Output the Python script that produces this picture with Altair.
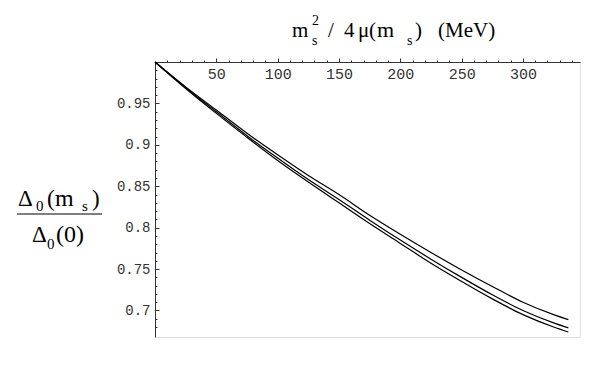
import altair as alt
import pandas as pd

# ---- data ----
x_vals = [0, 25, 50, 75, 100, 125, 150, 175, 200, 225, 250, 275, 300, 325, 337]
curve_a = [1.0, 0.970, 0.942, 0.914, 0.888, 0.863, 0.840, 0.815, 0.792, 0.770, 0.749, 0.729, 0.710, 0.695, 0.689]
curve_b = [1.0, 0.969, 0.940, 0.911, 0.884, 0.858, 0.834, 0.809, 0.785, 0.762, 0.740, 0.719, 0.700, 0.685, 0.679]
curve_c = [1.0, 0.968, 0.938, 0.909, 0.881, 0.855, 0.830, 0.805, 0.781, 0.757, 0.735, 0.714, 0.695, 0.680, 0.674]
series_names = ["a", "b", "c"]

x_major = [50, 100, 150, 200, 250, 300]
x_minor = [10, 20, 30, 40, 60, 70, 80, 90, 110, 120, 130, 140, 160, 170, 180, 190,
           210, 220, 230, 240, 260, 270, 280, 290, 310, 320, 330, 340]
y_major = [0.7, 0.75, 0.8, 0.85, 0.9, 0.95]
y_minor = [0.68, 0.69, 0.71, 0.72, 0.73, 0.74, 0.76, 0.77, 0.78, 0.79, 0.81, 0.82, 0.83, 0.84,
           0.86, 0.87, 0.88, 0.89, 0.91, 0.92, 0.93, 0.94, 0.96, 0.97, 0.98, 0.99]

# title pieces: text, x, y, size
title_parts = [
    ("m", 137, -25, 21), ("2", 157, -37, 14), ("s", 157, -17, 14),
    ("/", 173, -25, 21), ("4", 189, -25, 21), ("μ", 203, -25, 21),
    ("(", 214, -25, 21), ("m", 222, -25, 22), ("s", 252, -17, 14),
    (")", 260, -25, 21), ("(MeV)", 283, -25, 21),
]
ylabel_parts = [
    ("Δ", -137, 144, 23), ("0", -119, 149, 15), ("(", -108, 144, 23), ("m", -100, 144, 24),
    ("s", -73, 149, 15), (")", -63, 144, 23),
    ("Δ", -123, 180, 23), ("0", -108, 187, 15), ("(0)", -99, 180, 24),
]

W, H = 425, 275
X_DOM = [0, 346.5]
Y_DOM = [0.668, 1.0]

rows = []
for name, vals in zip(series_names, [curve_a, curve_b, curve_c]):
    for xv, yv in zip(x_vals, vals):
        rows.append({"x": xv, "y": yv, "series": name})
df = pd.DataFrame(rows)

xs = alt.Scale(domain=X_DOM, nice=False, zero=False)
ys = alt.Scale(domain=Y_DOM, nice=False, zero=False)
AX = "#333333"
MONO = "Liberation Mono, Cousine, DejaVu Sans Mono, Courier New, monospace"

base = alt.Chart(df)

lines = base.mark_line(color="black", strokeWidth=1.2, interpolate="monotone").encode(
    x=alt.X("x:Q", scale=xs, title=None,
            axis=alt.Axis(orient="top", values=x_major, labels=False, tickSize=4,
                          domainColor=AX, tickColor=AX, grid=False)),
    y=alt.Y("y:Q", scale=ys, title=None,
            axis=alt.Axis(orient="right", offset=-W, values=y_major, labels=False, tickSize=4,
                          domainColor=AX, tickColor=AX, grid=False)),
    detail="series:N",
)

label_layer = base.mark_line(opacity=0).encode(
    x=alt.X("x:Q", scale=xs, title=None,
            axis=alt.Axis(orient="bottom", offset=-H, values=x_major, ticks=False, domain=False,
                          labelFont=MONO, labelFontSize=15, labelColor="#333333",
                          labelPadding=4, grid=False)),
    y=alt.Y("y:Q", scale=ys, title=None,
            axis=alt.Axis(orient="left", values=y_major, ticks=False, domain=False, format=".2~f",
                          labelFont=MONO, labelFontSize=14, labelColor="#333333",
                          labelPadding=5, grid=False)),
    detail="series:N",
)

minor_layer = base.mark_line(opacity=0).encode(
    x=alt.X("x:Q", scale=xs, title=None,
            axis=alt.Axis(orient="top", values=x_minor, labels=False, tickSize=2, domain=False,
                          tickColor=AX, grid=False)),
    y=alt.Y("y:Q", scale=ys, title=None,
            axis=alt.Axis(orient="right", offset=-W, values=y_minor, labels=False, tickSize=2,
                          domain=False, tickColor=AX, grid=False)),
    detail="series:N",
)

texts = []
for t, px, py, sz in title_parts + ylabel_parts:
    texts.append(
        alt.Chart(pd.DataFrame({"t": [t]})).mark_text(
            align="left", baseline="alphabetic", font="Liberation Serif", fontSize=sz, color="black"
        ).encode(text="t:N", x=alt.value(px), y=alt.value(py))
    )

frac_line = alt.Chart(pd.DataFrame({"a": [0]})).mark_rule(color="black", strokeWidth=1).encode(
    x=alt.value(-138), x2=alt.value(-53), y=alt.value(152)
)

chart = alt.layer(lines, label_layer, minor_layer, frac_line, *texts).resolve_axis(
    x="independent", y="independent"
).properties(
    width=W, height=H,
    autosize=alt.AutoSizeParams(type="none"),
    padding={"left": 147, "top": 54, "right": 10, "bottom": 20},
).configure_view(stroke=None).configure(background="white")

chart.save("out.html", embed_options={"renderer": "svg", "actions": False})
